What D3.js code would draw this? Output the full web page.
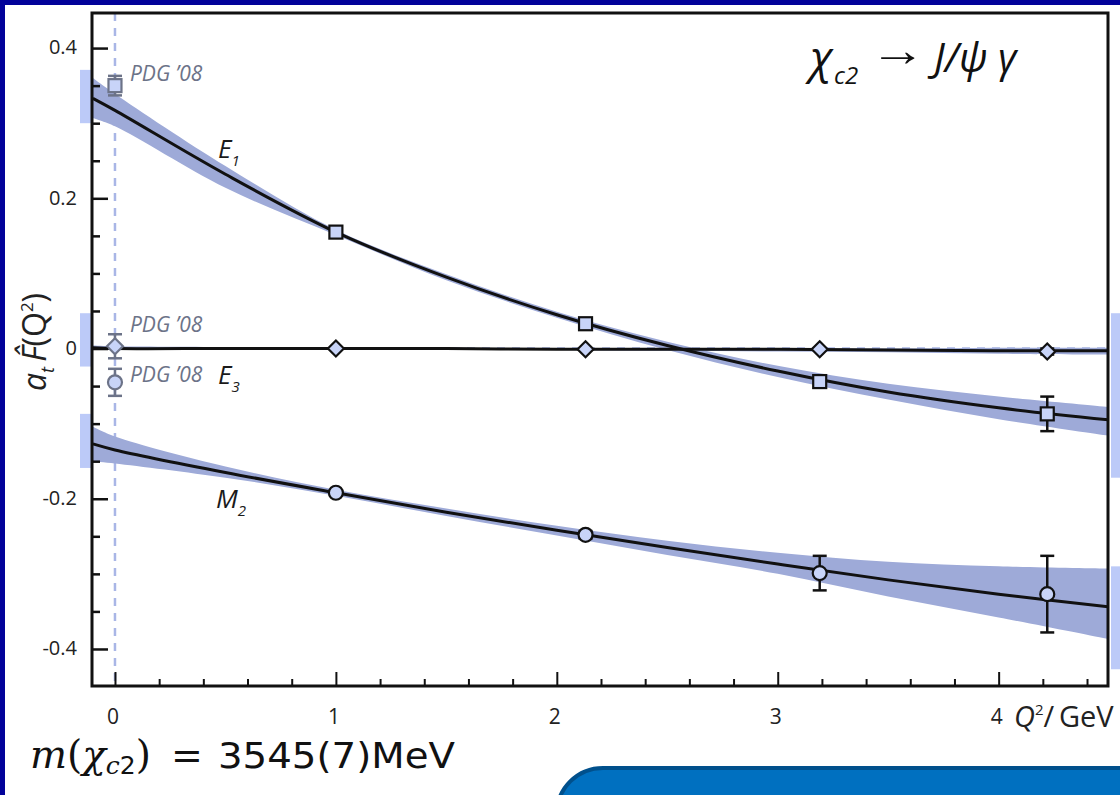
<!DOCTYPE html>
<html lang="en">
<head>
<meta charset="UTF-8">
<title>chi_c2 -> J/psi gamma</title>
<script src="https://cdn.jsdelivr.net/npm/d3@7"></script>
<style>
    body { margin: 0; background: #02029a; }
    svg { display: block; }
</style>
</head>
<body>
<div id="chart"></div>
<script>
// curve samples (Q^2 in GeV^2)
const curveQ2 = [-0.1, 0, 0.5, 1, 1.5, 2, 2.5, 3, 3.5, 4, 4.5];
const e1Line  = [0.333, 0.317, 0.232, 0.155, 0.095, 0.045, 0.004, -0.030, -0.058, -0.079, -0.095];
const e1Upper = [0.360, 0.339, 0.243, 0.158, 0.099, 0.049, 0.009, -0.023, -0.047, -0.064, -0.078];
const e1Lower = [0.307, 0.296, 0.214, 0.151, 0.091, 0.041, -0.002, -0.038, -0.068, -0.094, -0.116];
const e3Line  = [0.001, 0.000, 0.000, 0.000, 0.000, -0.001, -0.001, -0.001, -0.002, -0.003, -0.003];
const e3Upper = [0.004, 0.003, 0.002, 0.001, 0.001, 0.000, 0.000, 0.000, 0.000, 0.001, 0.001];
const e3Lower = [-0.002, -0.002, -0.002, -0.001, -0.001, -0.002, -0.003, -0.004, -0.005, -0.007, -0.008];
const m2Line  = [-0.127, -0.135, -0.165, -0.192, -0.218, -0.242, -0.265, -0.287, -0.308, -0.327, -0.344];
const m2Upper = [-0.104, -0.117, -0.157, -0.188, -0.213, -0.236, -0.256, -0.272, -0.284, -0.290, -0.293];
const m2Lower = [-0.150, -0.153, -0.172, -0.196, -0.223, -0.249, -0.275, -0.300, -0.330, -0.358, -0.387];

// lattice points
const latQ2   = [1, 2.13, 3.19, 4.22];
const e1Pts   = [0.155, 0.033, -0.044, -0.087];
const e1Err   = [0, 0, 0, 0.023];
const e3Pts   = [0.000, -0.001, -0.001, -0.004];
const e3Err   = [0, 0, 0, 0.004];
const m2Pts   = [-0.192, -0.248, -0.299, -0.327];
const m2Err   = [0, 0.005, 0.023, 0.051];

// PDG '08 values at Q^2 = 0
const pdgVals = [0.350, 0.003, -0.045];
const pdgErrs = [0.013, 0.016, 0.018];
const pdgSyms = ["square", "diamond", "circle"];
const pdgLabelY = [0.363, 0.030, -0.037];

// light bars outside the frame: [low, high]
const leftBars  = [[0.300, 0.371], [-0.024, 0.047], [-0.159, -0.087]];
const rightBars = [[-0.172, 0.047], [-0.427, -0.290]];

const xTicks = [0, 1, 2, 3, 4];
const yTicks = [-0.4, -0.2, 0, 0.2, 0.4];

const W = 1120, H = 795;
const pLeft = 92, pRight = 1108, pTop = 13, pBottom = 686;

const svg = d3.select("#chart").append("svg")
    .attr("width", W).attr("height", H);

// background: dark blue frame, white page
svg.append("rect").attr("width", W).attr("height", H).attr("fill", "#02029a");
svg.append("rect").attr("x", 5).attr("y", 5).attr("width", W - 5).attr("height", H - 5).attr("fill", "#fff");

const x = d3.scaleLinear().domain([-0.104, 4.495]).range([pLeft, pRight]);
const y = d3.scaleLinear().domain([-0.4493, 0.4467]).range([pBottom, pTop]);

svg.append("defs").append("clipPath").attr("id", "plot")
    .append("rect").attr("x", pLeft).attr("y", pTop).attr("width", pRight - pLeft).attr("height", pBottom - pTop);

// light bars at the frame edges
svg.selectAll(".lbar").data(leftBars).enter().append("rect")
    .attr("x", pLeft - 12).attr("width", 12)
    .attr("y", d => y(d[1])).attr("height", d => y(d[0]) - y(d[1]))
    .attr("fill", "#bccaf8");
svg.selectAll(".rbar").data(rightBars).enter().append("rect")
    .attr("x", pRight + 3).attr("width", 12)
    .attr("y", d => y(d[1])).attr("height", d => y(d[0]) - y(d[1]))
    .attr("fill", "#bccaf8");

const plot = svg.append("g").attr("clip-path", "url(#plot)");

// dashed reference lines
plot.append("line")
    .attr("x1", x(0)).attr("x2", x(0)).attr("y1", pTop).attr("y2", pBottom)
    .attr("stroke", "#a9b6e6").attr("stroke-width", 2.5).attr("stroke-dasharray", "8,7");
plot.append("line")
    .attr("x1", pLeft).attr("x2", pRight).attr("y1", y(0)).attr("y2", y(0))
    .attr("stroke", "#a9b6e6").attr("stroke-width", 2.5).attr("stroke-dasharray", "8,7");

const smooth = d3.curveCatmullRom.alpha(0.5);
const area = d3.area().curve(smooth)
    .x((d, i) => x(curveQ2[i])).y0(d => y(d[0])).y1(d => y(d[1]));
const line = d3.line().curve(smooth)
    .x((d, i) => x(curveQ2[i])).y(d => y(d));

const series = [
    { line: e1Line, up: e1Upper, lo: e1Lower },
    { line: e3Line, up: e3Upper, lo: e3Lower },
    { line: m2Line, up: m2Upper, lo: m2Lower }
];

series.forEach(s => {
    plot.append("path")
        .attr("d", area(s.lo.map((v, i) => [v, s.up[i]])))
        .attr("fill", "#9eaad8");
});
series.forEach(s => {
    plot.append("path")
        .attr("d", line(s.line))
        .attr("fill", "none").attr("stroke", "#111").attr("stroke-width", 3);
});

// symbols with error bars
function errBar(g, q, v, e, col) {
    if (!e) return;
    g.append("line").attr("x1", x(q)).attr("x2", x(q)).attr("y1", y(v + e)).attr("y2", y(v - e))
        .attr("stroke", col).attr("stroke-width", 2.5);
    [v + e, v - e].forEach(w => {
        g.append("line").attr("x1", x(q) - 7).attr("x2", x(q) + 7).attr("y1", y(w)).attr("y2", y(w))
            .attr("stroke", col).attr("stroke-width", 2.5);
    });
}
function symbol(g, q, v, type, col) {
    const cx = x(q), cy = y(v);
    if (type === "square") {
        g.append("rect").attr("x", cx - 6.5).attr("y", cy - 6.5).attr("width", 13).attr("height", 13)
            .attr("fill", "#c8d4f8").attr("stroke", col).attr("stroke-width", 2.2);
    } else if (type === "circle") {
        g.append("circle").attr("cx", cx).attr("cy", cy).attr("r", 7)
            .attr("fill", "#c8d4f8").attr("stroke", col).attr("stroke-width", 2.2);
    } else {
        g.append("path").attr("d", `M${cx},${cy - 8}L${cx + 8},${cy}L${cx},${cy + 8}L${cx - 8},${cy}Z`)
            .attr("fill", "#c8d4f8").attr("stroke", col).attr("stroke-width", 2.2);
    }
}

const marks = svg.append("g");
[[e1Pts, e1Err, "square"], [e3Pts, e3Err, "diamond"], [m2Pts, m2Err, "circle"]].forEach(([pts, errs, type]) => {
    latQ2.forEach((q, i) => {
        errBar(marks, q, pts[i], errs[i], "#111");
        symbol(marks, q, pts[i], type, "#111");
    });
});
pdgVals.forEach((v, i) => {
    errBar(marks, 0, v, pdgErrs[i], "#6c7388");
    symbol(marks, 0, v, pdgSyms[i], "#6c7388");
    marks.append("text").attr("x", x(0) + 15).attr("y", y(pdgLabelY[i]))
        .attr("font-family", "Open Sans, sans-serif").attr("font-style", "italic")
        .attr("font-size", 21).attr("fill", "#6c7388").attr("dominant-baseline", "middle")
        .text("PDG \u201908");
});

// frame and axes
svg.append("path")
    .attr("d", `M${pLeft},${pTop}H${pRight}V${pBottom}H${pLeft}Z`)
    .attr("fill", "none").attr("stroke", "#111").attr("stroke-width", 3);

const xAxis = svg.append("g").attr("transform", `translate(0,${pBottom})`)
    .call(d3.axisBottom(x).tickValues(d3.range(0, 4.41, 0.2)).tickSize(-7).tickFormat(""));
xAxis.call(g => g.select(".domain").remove());
xAxis.selectAll(".tick line").attr("stroke", "#111").attr("stroke-width", 2)
    .attr("y2", d => Math.abs(d - Math.round(d)) < 1e-6 ? -14 : -7);
svg.selectAll(".xlab").data(xTicks).enter().append("text")
    .attr("x", d => x(d) - 2).attr("y", 724).attr("text-anchor", "middle")
    .attr("font-family", "Open Sans, sans-serif").attr("font-size", 21).attr("fill", "#222")
    .text(d => d);

const yAxis = svg.append("g").attr("transform", `translate(${pLeft},0)`)
    .call(d3.axisLeft(y).tickValues(d3.range(-0.4, 0.41, 0.05)).tickSize(-8).tickFormat(""));
yAxis.call(g => g.select(".domain").remove());
yAxis.selectAll(".tick line").attr("stroke", "#111").attr("stroke-width", 2.5)
    .attr("x2", d => Math.abs(d * 5 - Math.round(d * 5)) < 1e-6 ? 16 : 8);
svg.selectAll(".ylab").data(yTicks).enter().append("text")
    .attr("x", 77).attr("y", d => y(d) + 1).attr("text-anchor", "end").attr("dominant-baseline", "middle")
    .attr("font-family", "Open Sans, sans-serif").attr("font-size", 20).attr("fill", "#222")
    .text(d => d === 0 ? "0" : d.toFixed(1));

// x axis title
const xt = svg.append("text").attr("x", 1014).attr("y", 727)
    .attr("font-family", "Open Sans, sans-serif").attr("font-size", 29).attr("fill", "#222");
xt.append("tspan").attr("font-style", "italic").text("Q");
xt.append("tspan").attr("font-size", 15).attr("dy", -12).text("2");
xt.append("tspan").attr("dy", 12).text("/\u2009GeV");

// y axis title
const yt = svg.append("text").attr("transform", "translate(46,342) rotate(-90)")
    .attr("text-anchor", "middle")
    .attr("font-family", "Open Sans, sans-serif").attr("font-size", 32).attr("fill", "#222");
yt.append("tspan").attr("font-style", "italic").text("a");
yt.append("tspan").attr("font-style", "italic").attr("font-size", 18).attr("dy", 8).text("t");
yt.append("tspan").attr("font-style", "italic").attr("dy", -8).text("\u2009F\u0302");
yt.append("tspan").text("(Q");
yt.append("tspan").attr("font-size", 17).attr("dy", -13).text("2");
yt.append("tspan").attr("dy", 13).text(")");

// curve labels
function subLabel(px, py, main, sub) {
    const t = svg.append("text").attr("x", px).attr("y", py)
        .attr("font-family", "Open Sans, sans-serif").attr("font-style", "italic")
        .attr("font-size", 26).attr("fill", "#1a1a1a");
    t.append("tspan").text(main);
    t.append("tspan").attr("font-size", 15).attr("dy", 8).text(sub);
}
subLabel(218, 158, "E", "1");
subLabel(218, 384, "E", "3");
subLabel(216, 508, "M", "2");

// title, placed piece by piece
const tFont = "Open Sans, sans-serif";
svg.append("text").attr("x", 810).attr("y", 73).attr("font-family", tFont)
    .attr("font-style", "italic").attr("font-size", 44).attr("fill", "#111").text("\u03c7");
svg.append("text").attr("x", 834).attr("y", 84).attr("font-family", tFont)
    .attr("font-style", "italic").attr("font-size", 24).attr("fill", "#111").text("c2");
svg.append("text").attr("x", 870).attr("y", 66).attr("font-family", "Liberation Sans, sans-serif")
    .attr("font-size", 46).attr("fill", "#111")
    .attr("textLength", 56).attr("lengthAdjust", "spacingAndGlyphs").text("\u2192");
svg.append("text").attr("x", 934).attr("y", 72).attr("font-family", tFont)
    .attr("font-style", "italic").attr("font-size", 40).attr("fill", "#111").text("J/\u03c8 \u03b3");

// mass note
const serif = "DejaVu Serif, serif";
const mt = svg.append("text").attr("x", 30).attr("y", 768)
    .attr("font-family", serif).attr("font-size", 39).attr("fill", "#111");
mt.append("tspan").attr("font-style", "italic").text("m");
mt.append("tspan").text("(");
mt.append("tspan").attr("font-style", "italic").text("\u03c7");
mt.append("tspan").attr("font-style", "italic").attr("font-size", 25).attr("dy", 6).text("c");
mt.append("tspan").attr("font-family", "DejaVu Sans, sans-serif").attr("font-size", 25).text("2");
mt.append("tspan").attr("dy", -6).text(")");
svg.append("text").attr("x", 171).attr("y", 768)
    .attr("font-family", "DejaVu Sans, sans-serif").attr("font-size", 38).attr("fill", "#111").text("=");
svg.append("text").attr("x", 218).attr("y", 768)
    .attr("font-family", "DejaVu Sans, sans-serif").attr("font-size", 35).attr("fill", "#111")
    .attr("textLength", 237).attr("lengthAdjust", "spacingAndGlyphs").text("3545(7)MeV");

// blue box at the bottom right
svg.append("rect").attr("x", 557).attr("y", 768).attr("width", 620).attr("height", 90).attr("rx", 46)
    .attr("fill", "#0070c0").attr("stroke", "#00508c").attr("stroke-width", 4);
</script>
</body>
</html>
